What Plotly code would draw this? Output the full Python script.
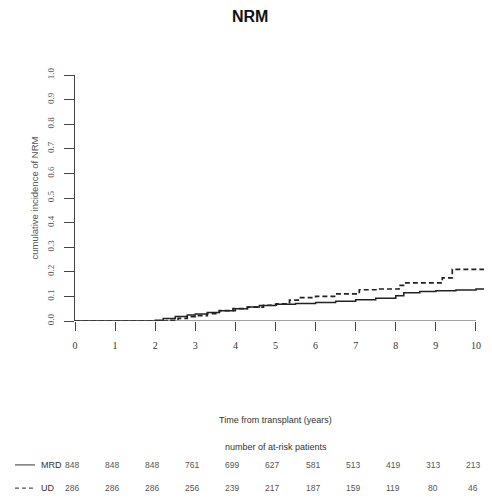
import plotly.graph_objects as go

# ---- data ----
mrd_time = [0, 2.0, 2.2, 2.5, 2.8, 3.0, 3.3, 3.6, 4.0, 4.3, 4.6, 5.0, 5.5, 6.0, 6.5, 7.0, 7.5, 8.0, 8.2, 8.6, 9.0, 9.5, 10.0, 10.4]
mrd_ci = [0, 0.003, 0.01, 0.018, 0.024, 0.028, 0.035, 0.042, 0.05, 0.057, 0.063, 0.068, 0.071, 0.075, 0.08, 0.086, 0.092, 0.103, 0.115, 0.12, 0.123, 0.126, 0.13, 0.137]
ud_time = [0, 2.0, 2.3, 2.57, 2.8, 3.0, 3.3, 3.6, 3.94, 4.3, 4.7, 5.02, 5.35, 5.6, 6.0, 6.5, 7.09, 7.6, 8.08, 8.25, 9.16, 9.41, 10.4]
ud_ci = [0, 0.0, 0.003, 0.011, 0.018, 0.022, 0.03, 0.042, 0.05, 0.056, 0.064, 0.07, 0.085, 0.095, 0.1, 0.11, 0.127, 0.13, 0.145, 0.155, 0.175, 0.21, 0.21]

risk_times = [0, 1, 2, 3, 4, 5, 6, 7, 8, 9, 10]
mrd_risk = [848, 848, 848, 761, 699, 627, 581, 513, 419, 313, 213]
ud_risk = [286, 286, 286, 256, 239, 217, 187, 159, 119, 80, 46]

x_ticks = list(range(0, 11))
y_ticks = [round(0.1 * i, 1) for i in range(11)]

GRAY = "#555555"
SERIF = "Liberation Serif"
SANS = "Liberation Sans"

fig = go.Figure()
fig.add_trace(go.Scatter(x=mrd_time, y=mrd_ci, mode="lines", line_shape="hv",
                         line=dict(color="#222222", width=1.5), showlegend=False))
fig.add_trace(go.Scatter(x=ud_time, y=ud_ci, mode="lines", line_shape="hv",
                         line=dict(color="#222222", width=1.7, dash="5px,3px"), showlegend=False))

# x axis line from 0 to 10
fig.add_shape(type="line", xref="x", yref="y", x0=x_ticks[0], x1=x_ticks[-1], y0=0, y1=0,
              line=dict(color="#444444", width=1))

fig.update_layout(
    width=484, height=494,
    margin=dict(l=67, r=0, t=67, b=181),
    plot_bgcolor="white", paper_bgcolor="white",
    xaxis=dict(range=[0, 10.4], tickvals=x_ticks, ticktext=[str(v) for v in x_ticks],
               ticks="outside", ticklen=9, tickcolor="#444444", showline=False,
               showgrid=False, zeroline=False, ticklabelstandoff=6,
               tickfont=dict(family=SERIF, size=10, color="#333333")),
    yaxis=dict(range=[0, 1.0], tickvals=y_ticks, ticktext=[f"{v:.1f}" for v in y_ticks],
               ticks="outside", ticklen=10, tickcolor="#444444", showline=True,
               linecolor="#444444", linewidth=1, showgrid=False, zeroline=False,
               tickangle=-90, ticklabelstandoff=6,
               tickfont=dict(family=SERIF, size=9, color=GRAY),
               title=dict(text="cumulative incidence of NRM", standoff=6,
                          font=dict(family=SANS, size=9.5, color=GRAY))),
)

ann = []
ann.append(dict(text="<b>NRM</b>", xref="paper", yref="paper", x=0.42, y=1.236,
                xanchor="center", yanchor="middle",
                showarrow=False, font=dict(family=SANS, size=16, color="#111111")))
ann.append(dict(text="Time from transplant (years)", xref="paper", yref="paper", x=0.481, y=-0.402,
                xanchor="center", yanchor="middle",
                showarrow=False, font=dict(family=SANS, size=9, color="#333333")))
ann.append(dict(text="number of at-risk patients", xref="paper", yref="paper", x=0.481, y=-0.512,
                xanchor="center", yanchor="middle",
                showarrow=False, font=dict(family=SANS, size=9, color="#333333")))
row_y = {"MRD": -0.585, "UD": -0.679}
for name, vals in (("MRD", mrd_risk), ("UD", ud_risk)):
    ann.append(dict(text=name, xref="paper", yref="paper", x=-0.087, y=row_y[name],
                    xanchor="left", yanchor="middle",
                    showarrow=False, font=dict(family=SANS, size=9, color="#333333")))
    for t, v in zip(risk_times, vals):
        ann.append(dict(text=str(v), xref="x", yref="paper", x=t, y=row_y[name], xshift=-3,
                        xanchor="center", yanchor="middle",
                        showarrow=False, font=dict(family=SANS, size=8.5, color=GRAY)))
fig.update_layout(annotations=ann)

fig.add_shape(type="line", xref="paper", yref="paper", x0=-0.144, x1=-0.096,
              y0=row_y["MRD"], y1=row_y["MRD"], line=dict(color="#555555", width=1.2))
fig.add_shape(type="line", xref="paper", yref="paper", x0=-0.144, x1=-0.096,
              y0=row_y["UD"], y1=row_y["UD"], line=dict(color="#555555", width=1.2, dash="4px,3px"))

fig.write_html("out.html")
